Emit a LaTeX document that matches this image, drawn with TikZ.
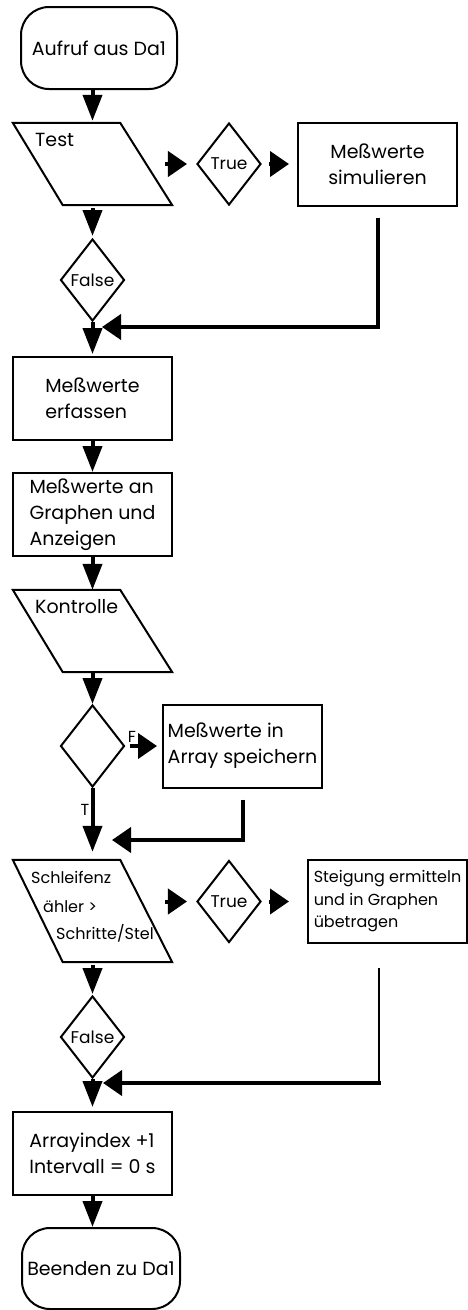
\documentclass[tikz,border=0pt]{standalone}
\usepackage{fontspec}
\setmainfont{Poppins}
\usetikzlibrary{arrows.meta,shapes.geometric}

\tikzset{
  base/.style={draw, line width=2pt, inner sep=2pt, font=\fontsize{19}{26}\selectfont},
  proc/.style={base, minimum width=159pt, minimum height=83pt, align=left},
  term/.style={base, rounded corners=28pt, minimum width=156pt, minimum height=82pt},
  dec/.style={base, diamond, minimum width=64pt, minimum height=82pt, inner sep=0pt, font=\fontsize{17}{19}\selectfont},
  io/.style={inner sep=0pt, minimum width=159pt},
  outline/.style={line width=2pt, line join=miter},
  flow/.style={line width=4pt, -{Triangle[length=26pt,width=19pt]}},
  flowh/.style={line width=4pt, -{Triangle[length=19pt,width=25pt]}},
  lbl/.style={inner sep=0pt, font=\fontsize{19}{26}\selectfont},
  small/.style={inner sep=0pt, font=\fontsize{16}{22}\selectfont},
}

\begin{document}
\begin{tikzpicture}[x=1pt, y=-1pt]
\useasboundingbox (0,0) rectangle (468,1310);

% Start and test branch
\node[term] (start) at (99,48) {Aufruf aus Da1};
\node[io, minimum height=82pt] (test) at (92.5,164) {};
\draw[outline] (test.north west) -- ([xshift=-52pt]test.north east) -- (test.south east) -- ([xshift=50pt]test.south west) -- cycle;
\node[lbl, anchor=west] (testtxt) at (35,140) {Test};
\coordinate (out1) at (165,164);
\node[dec] (true1) at (229,164) {True};
\node[proc, align=center] (sim) at (377.5,164) {Meßwerte\\simulieren};
\node[dec] (false1) at (92.5,280) {False};
\coordinate (join1) at (102,327);

% Measuring
\node[proc] (erf) at (92.5,398.5) {Meßwerte\\erfassen};
\node[proc] (graph) at (92.5,514.5) {Meßwerte an\\Graphen und\\Anzeigen};
\node[io, minimum height=82pt] (ctrl) at (92.5,631) {};
\draw[outline] (ctrl.north west) -- ([xshift=-52pt]ctrl.north east) -- (ctrl.south east) -- ([xshift=50pt]ctrl.south west) -- cycle;
\node[lbl, anchor=west] (ctrltxt) at (35,607) {Kontrolle};
\node[dec] (check) at (92.5,746) {};
\node[proc] (arr) at (242.5,746) {Meßwerte in\\Array speichern};
\node[small] (flab) at (132,737) {F};
\node[small] (tlab) at (85,810) {T};
\coordinate (join2) at (112,840);

% Loop counter
\node[io, minimum height=102pt] (loop) at (92.5,911) {};
\draw[outline] (loop.north west) -- ([xshift=-52pt]loop.north east) -- (loop.south east) -- ([xshift=50pt]loop.south west) -- cycle;
\node[small, anchor=west] (looptxt1) at (31,877) {Schleifenz};
\node[small, anchor=west] (looptxt2) at (43,907) {ähler >};
\node[small, anchor=west] (looptxt3) at (56,933) {Schritte/Stel};
\coordinate (out2) at (165,901.5);
\node[dec] (true2) at (229,901.5) {True};
\node[proc, font=\fontsize{16}{22.5}\selectfont] (steig) at (387.5,901.5) {Steigung ermitteln\\und in Graphen\\übetragen};
\node[dec] (false2) at (92.5,1037) {False};
\coordinate (bend3) at (379,1083);
\coordinate (join3) at (103,1083);

% End
\node[proc] (idx) at (92.5,1153.5) {Arrayindex +1\\Intervall = 0 s};
\node[term, minimum width=158pt, minimum height=81pt] (stop) at (101,1268.5) {Beenden zu Da1};

% Connectors
\draw[flow, shorten >=2pt] (start.south -| test.north) -- (test.north);
\draw[flowh, shorten >=9pt] (out1) -- (true1);
\draw[flowh, shorten <=7pt, shorten >=8pt] (true1) -- (sim);
\draw[flow, shorten <=3pt, shorten >=2pt] (test) -- (false1);
\draw[flow, shorten >=2pt] (false1) -- (erf);
\draw[flowh, shorten <=11pt] (sim.south) |- (join1);
\draw[flow] (erf) -- (graph);
\draw[flow] (graph) -- (ctrl);
\draw[flow] (ctrl) -- (check);
\draw[flowh, shorten <=4pt, shorten >=5pt] (check) -- (arr);
\draw[flow, shorten >=8pt] (check) -- (loop);
\draw[flowh, shorten <=11pt] (arr.south) |- (join2);
\draw[flowh, shorten >=9pt] (out2) -- (true2);
\draw[flowh, shorten <=7pt, shorten >=18pt] (true2) -- (steig);
\draw[flow, shorten <=3pt, shorten >=1pt] (loop) -- (false2);
\draw[line width=2pt, shorten <=24pt] (steig.south -| bend3) -- (bend3);
\draw[flowh] ([xshift=2pt]bend3) -- (join3);
\draw[flow, shorten >=4pt] (false2) -- (idx);
\draw[flow] (idx.south) -- (idx.south |- stop.north);
\end{tikzpicture}
\end{document}
